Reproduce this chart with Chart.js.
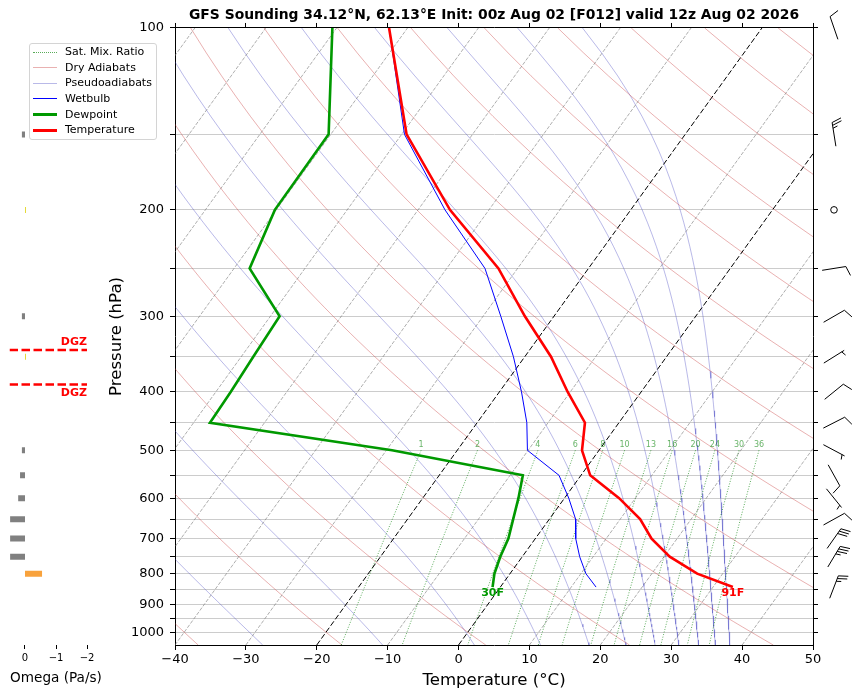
<!DOCTYPE html>
<html>
<head>
<meta charset="utf-8">
<title>GFS Sounding</title>
<script src="https://cdn.jsdelivr.net/npm/chart.js@4.4.1/dist/chart.umd.min.js"></script>
<style>
  html, body { margin: 0; padding: 0; background: #fff; }
  #wrap { position: relative; width: 858px; height: 694px; font-family: 'DejaVu Sans', sans-serif; }
  canvas { position: absolute; left: 0; top: 0; }
  #legend { position: absolute; left: 29px; top: 43px; width: 126px; height: 95px;
            border: 1px solid #d4d4d4; border-radius: 3px; background: rgba(255,255,255,0.85);
            font-size: 11px; color: #000; }
  .row { position: absolute; left: 0; height: 14px; line-height: 14px; white-space: nowrap; }
  .swatch { position: absolute; left: 3px; width: 24px; }
  .lbl { position: absolute; left: 35px; top: 0; }
</style>
</head>
<body>
<div id="wrap">
  <canvas id="omega" width="120" height="694"></canvas>
  <canvas id="skewt" width="858" height="694"></canvas>
  <div id="legend"></div>
</div>
<script>
// sounding levels (hPa) and profiles (deg C)
const pressureLevels = [100, 150, 200, 250, 300, 350, 400, 450, 500, 550, 600, 650, 700, 750, 800, 842];
const temperatureC = [-72.6, -59.3, -45.5, -32.7, -24.1, -16.3, -10.4, -4.8, -2.4, 1.3, 7.7, 12.8, 16.4, 20.8, 26.4, 32.8];
const dewpointC = [-80.6, -70.3, -70.2, -67.8, -58.7, -58.3, -57.9, -57.7, -29.2, -8.2, -6.5, -5.1, -3.8, -3.1, -2.2, -1.1];
const wetbulbC = [-72.6, -59.6, -46.2, -34.6, -27.5, -21.6, -16.9, -13.0, -10.1, -3.1, 0.6, 3.7, 5.7, 8.1, 10.7, 13.5];

// omega panel (Pa/s)
const omegaLevels = [150, 200, 250, 300, 350, 500, 550, 600, 650, 700, 750, 800];
const omegaPaS = [0.1, -0.03, 0.03, 0.1, -0.03, 0.1, 0.16, 0.22, 0.48, 0.48, 0.48, -0.55];
const dgzBoundsHpa = [341, 389];

// winds
const windLevels = [100, 150, 200, 250, 300, 350, 400, 450, 500, 550, 600, 650, 700, 750, 842];
const windDirDeg = [341, 351, 0, 81, 60, 58, 51, 63, 118, 151, 141, 61, 35, 31, 21];
const windSpeedKt = [10, 25, 0, 10, 10, 5, 10, 10, 5, 10, 5, 10, 30, 35, 25];

// background lines
const isothermsC = [-100, -90, -80, -70, -60, -50, -40, -30, -10, 10, 20, 30, 40, 50];
const markedIsothermsC = [-20, 0];
const dryAdiabatStartC = [-40, -20, 0, 20, 40, 60, 80, 100, 120, 140, 160, 180, 200, 220, 240];
const thetaELinesC = [-30, -10, 10, 30, 50, 70, 90, 110, 130, 150, 170];
const mixingRatioGkg = [1, 2, 4, 6, 8, 10, 13, 16, 20, 24, 30, 36];

// axes
const pressureTicks = [100, 150, 200, 250, 300, 350, 400, 450, 500, 550, 600, 650, 700, 750, 800, 850, 900, 950, 1000];
const omegaTicks = [-2, -1, 0];

const TITLE = 'GFS Sounding 34.12\u00b0N, 62.13\u00b0E Init: 00z Aug 02 [F012] valid 12z Aug 02 2026';
const P_TOP = 100, P_BOTTOM = 1050, SKEW = 62.8;
const MIX_TOP = 500;

const RED = '#ff0000', GREEN = '#009900', BLUE = '#0000ff';
const DRY_COLOR = 'rgba(200,60,60,0.4)', MOIST_COLOR = 'rgba(60,60,190,0.36)', MIX_COLOR = 'rgba(0,128,0,0.65)';

Chart.defaults.font.family = "'DejaVu Sans', sans-serif";
Chart.defaults.color = '#000';

function skewX(t, p) {
  return t + SKEW * Math.log10(P_BOTTOM / p) / Math.log10(P_BOTTOM / P_TOP);
}

const curveLevels = [];
for (let p = P_TOP; p <= P_BOTTOM; p += 10) curveLevels.push(p);

function satVap(tc) { return 6.112 * Math.exp(17.67 * tc / (tc + 243.5)); }

// saturated equivalent potential temperature (Bolton)
function thetaESat(tk, p) {
  const es = satVap(tk - 273.15);
  if (es > 0.5 * p) return Infinity;
  const r = 1000 * 0.622 * es / (p - es);
  const th = tk * Math.pow(1000 / p, 0.2854 * (1 - 0.28e-3 * r));
  return th * Math.exp((3.376 / tk - 0.00254) * r * (1 + 0.81e-3 * r));
}

function tempForThetaE(the, p) {
  let lo = 120, hi = 360;
  for (let k = 0; k < 60; k++) {
    const mid = (lo + hi) / 2;
    if (thetaESat(mid, p) > the) hi = mid; else lo = mid;
  }
  return (lo + hi) / 2 - 273.15;
}

function dewpointFromMix(w, p) {
  const e = w * p / (0.622 + w);
  const l = Math.log(e / 6.112);
  return 243.5 * l / (17.67 - l);
}

function line(data, color, width, dash) {
  return { data, showLine: true, borderColor: color, borderWidth: width, borderDash: dash || [],
           pointRadius: 0, fill: false, tension: 0 };
}

function profile(values) {
  return pressureLevels.map((p, i) => ({ x: skewX(values[i], p), y: p }));
}

const datasets = [
  line(profile(temperatureC), RED, 2.6),
  line(profile(dewpointC), GREEN, 2.6),
  line(profile(wetbulbC), BLUE, 1)
];

markedIsothermsC.forEach(t => {
  datasets.push(line([{ x: skewX(t, P_BOTTOM), y: P_BOTTOM }, { x: skewX(t, P_TOP), y: P_TOP }], '#000', 1, [5.5, 2.4]));
});
isothermsC.forEach(t => {
  datasets.push(line([{ x: skewX(t, P_BOTTOM), y: P_BOTTOM }, { x: skewX(t, P_TOP), y: P_TOP }], 'rgba(120,120,120,0.6)', 1, [3.7, 1.6]));
});
mixingRatioGkg.forEach(w => {
  const pts = curveLevels.filter(p => p >= MIX_TOP)
    .map(p => ({ x: skewX(dewpointFromMix(w / 1000, p), p), y: p }));
  datasets.push(line(pts, MIX_COLOR, 1, [1, 1.65]));
});
dryAdiabatStartC.forEach(t0 => {
  const pts = curveLevels.map(p => ({ x: skewX((t0 + 273.15) * Math.pow(p / 1000, 0.28571) - 273.15, p), y: p }));
  datasets.push(line(pts, DRY_COLOR, 1));
});
thetaELinesC.forEach(th => {
  const pts = curveLevels.map(p => ({ x: skewX(tempForThetaE(th + 273.15, p), p), y: p }));
  datasets.push(line(pts, MOIST_COLOR, 1));
});

const BARB_LEN = 24, BARB_SPACE = 2.9, BARB_H = 9.5, BARB_F = 3.2;

const barbPlugin = {
  id: 'barbs',
  afterDraw(chart) {
    const ctx = chart.ctx, ys = chart.scales.y;
    const xc = chart.chartArea.right + 21;
    ctx.save();
    ctx.strokeStyle = '#000';
    ctx.fillStyle = '#000';
    ctx.lineWidth = 1;
    windLevels.forEach((p, i) => {
      const yc = ys.getPixelForValue(p);
      const spd = windSpeedKt[i];
      if (spd < 2.5) {
        ctx.beginPath();
        ctx.arc(xc, yc, 3.3, 0, 2 * Math.PI);
        ctx.stroke();
        return;
      }
      const a = windDirDeg[i] * Math.PI / 180;
      const dx = Math.sin(a), dy = -Math.cos(a);
      const rx = -dy, ry = dx;
      const tx = xc + dx * BARB_LEN / 2, ty = yc + dy * BARB_LEN / 2;
      ctx.beginPath();
      ctx.moveTo(xc - dx * BARB_LEN / 2, yc - dy * BARB_LEN / 2);
      ctx.lineTo(tx, ty);
      ctx.stroke();
      let rest = Math.round(spd / 5) * 5;
      const flags = Math.floor(rest / 50); rest -= flags * 50;
      const full = Math.floor(rest / 10); rest -= full * 10;
      const half = rest >= 5 ? 1 : 0;
      let s = 0;
      for (let k = 0; k < flags; k++) {
        const px = tx - dx * s, py = ty - dy * s;
        ctx.beginPath();
        ctx.moveTo(px, py);
        ctx.lineTo(px + rx * BARB_H - dx * 2, py + ry * BARB_H - dy * 2);
        ctx.lineTo(px - dx * 4, py - dy * 4);
        ctx.closePath();
        ctx.fill();
        s += 5;
      }
      for (let k = 0; k < full; k++) {
        const px = tx - dx * s, py = ty - dy * s;
        ctx.beginPath();
        ctx.moveTo(px, py);
        ctx.lineTo(px + rx * BARB_H + dx * BARB_F, py + ry * BARB_H + dy * BARB_F);
        ctx.stroke();
        s += BARB_SPACE;
      }
      if (half) {
        if (flags + full === 0) s = BARB_SPACE;
        const px = tx - dx * s, py = ty - dy * s;
        ctx.beginPath();
        ctx.moveTo(px, py);
        ctx.lineTo(px + rx * BARB_H / 2 + dx * BARB_F / 2, py + ry * BARB_H / 2 + dy * BARB_F / 2);
        ctx.stroke();
      }
    });
    ctx.restore();
  }
};

const labelPlugin = {
  id: 'skewLabels',
  afterDatasetsDraw(chart) {
    const ctx = chart.ctx, xs = chart.scales.x, ys = chart.scales.y;
    const area = chart.chartArea;
    ctx.save();
    // mixing ratio labels
    ctx.font = "8px 'DejaVu Sans'";
    ctx.fillStyle = 'rgba(0,128,0,0.6)';
    ctx.textAlign = 'center';
    ctx.textBaseline = 'bottom';
    mixingRatioGkg.forEach(w => {
      const x = xs.getPixelForValue(skewX(dewpointFromMix(w / 1000, MIX_TOP), MIX_TOP));
      if (x > area.left && x < area.right) ctx.fillText(String(w), x, ys.getPixelForValue(MIX_TOP) - 1);
    });
    // surface values in F
    const n = pressureLevels.length - 1, ps = pressureLevels[n];
    ctx.font = "bold 11px 'DejaVu Sans'";
    ctx.textBaseline = 'top';
    [[dewpointC[n], GREEN], [temperatureC[n], RED]].forEach(([t, c]) => {
      ctx.fillStyle = c;
      ctx.fillText(Math.round(t * 9 / 5 + 32) + 'F', xs.getPixelForValue(skewX(t, ps)), ys.getPixelForValue(ps) + 1);
    });
    ctx.restore();
  }
};

const minus = v => String(v).replace('-', '\u2212');

new Chart(document.getElementById('skewt'), {
  type: 'scatter',
  data: { datasets },
  plugins: [labelPlugin, barbPlugin],
  options: {
    responsive: false,
    animation: false,
    events: [],
    layout: { padding: { left: 103, right: 39.6, top: 0, bottom: 0 } },
    plugins: {
      legend: { display: false },
      tooltip: { enabled: false },
      title: { display: true, text: TITLE, fullSize: false, color: '#000',
               font: { size: 13.9, weight: 'bold' }, padding: { top: 6.7, bottom: 0 } }
    },
    scales: {
      x: {
        type: 'linear', position: 'bottom', min: -40, max: 50,
        ticks: { stepSize: 10, autoSkip: false, font: { size: 13 }, padding: 2, callback: minus },
        grid: { drawOnChartArea: false, tickLength: 5, tickColor: '#000' },
        border: { color: '#000', width: 1 },
        title: { display: true, text: 'Temperature (\u00b0C)', font: { size: 16.6 }, padding: { top: 3, bottom: 3 } },
        afterFit: s => { s.height = 49; }
      },
      x2: {
        type: 'linear', position: 'top', min: -40, max: 50,
        ticks: { stepSize: 10, autoSkip: false, callback: () => '' },
        grid: { drawOnChartArea: false, tickLength: 5, tickColor: '#000' },
        border: { color: '#000', width: 1 },
        afterFit: s => { s.height = 4.6; }
      },
      y: {
        type: 'logarithmic', position: 'left', reverse: true, min: P_TOP, max: P_BOTTOM,
        afterBuildTicks: s => { s.ticks = pressureTicks.map(v => ({ value: v })); },
        ticks: { autoSkip: false, font: { size: 13 }, padding: 6,
                 callback: v => (v % 100 === 0 ? String(v) : '') },
        grid: { color: '#cccccc', lineWidth: 1, tickLength: 5, tickColor: '#000' },
        border: { color: '#000', width: 1 },
        title: { display: true, text: 'Pressure (hPa)', font: { size: 16.6 }, padding: { top: 3.3, bottom: 3.3 } },
        afterFit: s => { s.width = 72; }
      },
      y2: {
        type: 'logarithmic', position: 'right', reverse: true, min: P_TOP, max: P_BOTTOM,
        afterBuildTicks: s => { s.ticks = pressureTicks.map(v => ({ value: v })); },
        ticks: { autoSkip: false, callback: () => '' },
        grid: { drawOnChartArea: false, tickLength: 5, tickColor: '#000' },
        border: { color: '#000', width: 1 },
        afterFit: s => { s.width = 5.4; }
      }
    }
  }
});

// omega panel
function omegaColor(v) { return v > 0 ? '#808080' : (v > -0.25 ? '#e4d82a' : '#f8a23c'); }

const omegaSets = omegaLevels.map((p, i) => ({
  data: [{ x: 0, y: p }, { x: omegaPaS[i], y: p }],
  showLine: true, borderColor: omegaColor(omegaPaS[i]), borderWidth: 6,
  borderCapStyle: 'butt', pointRadius: 0
}));
dgzBoundsHpa.forEach(p => {
  omegaSets.push({ data: [{ x: 0.5, y: p }, { x: -2, y: p }], showLine: true, borderColor: RED,
                   borderWidth: 2.5, borderDash: [8.5, 3.5], borderCapStyle: 'butt', pointRadius: 0 });
});

const dgzPlugin = {
  id: 'dgz',
  afterDatasetsDraw(chart) {
    const ctx = chart.ctx, xs = chart.scales.x, ys = chart.scales.y;
    ctx.save();
    ctx.font = "bold 11px 'DejaVu Sans'";
    ctx.fillStyle = RED;
    ctx.textAlign = 'right';
    const xr = xs.getPixelForValue(-2);
    ctx.textBaseline = 'bottom';
    ctx.fillText('DGZ', xr, ys.getPixelForValue(dgzBoundsHpa[0]) - 2);
    ctx.textBaseline = 'top';
    ctx.fillText('DGZ', xr, ys.getPixelForValue(dgzBoundsHpa[1]) + 3);
    ctx.restore();
  }
};

new Chart(document.getElementById('omega'), {
  type: 'scatter',
  data: { datasets: omegaSets },
  plugins: [dgzPlugin],
  options: {
    responsive: false,
    animation: false,
    events: [],
    layout: { padding: { left: 9.5, right: 17.5, top: 28, bottom: 0 } },
    plugins: { legend: { display: false }, tooltip: { enabled: false } },
    scales: {
      x: {
        type: 'linear', min: -2.5, max: 0.5, reverse: true,
        afterBuildTicks: s => { s.ticks = omegaTicks.map(v => ({ value: v })); },
        ticks: { font: { size: 10 }, padding: 3, callback: minus },
        grid: { drawOnChartArea: false, tickLength: 4, tickColor: '#000' },
        border: { display: false },
        title: { display: true, text: 'Omega (Pa/s)', font: { size: 13.6 }, padding: { top: 0, bottom: 7.8 } },
        afterFit: s => { s.height = 49; }
      },
      y: { type: 'logarithmic', display: false, reverse: true, min: P_TOP, max: P_BOTTOM }
    }
  }
});

// legend
const legendItems = [
  { text: 'Sat. Mix. Ratio', color: MIX_COLOR, width: 1, style: 'dotted' },
  { text: 'Dry Adiabats', color: DRY_COLOR, width: 1, style: 'solid' },
  { text: 'Pseudoadiabats', color: MOIST_COLOR, width: 1, style: 'solid' },
  { text: 'Wetbulb', color: BLUE, width: 1, style: 'solid' },
  { text: 'Dewpoint', color: GREEN, width: 3, style: 'solid' },
  { text: 'Temperature', color: RED, width: 3, style: 'solid' }
];
const legendEl = document.getElementById('legend');
legendItems.forEach((it, i) => {
  const row = document.createElement('div');
  row.className = 'row';
  row.style.top = (1.3 + i * 15.55) + 'px';
  const sw = document.createElement('div');
  sw.className = 'swatch';
  sw.style.top = (7 - it.width / 2) + 'px';
  sw.style.borderTop = it.width + 'px ' + it.style + ' ' + it.color;
  const lb = document.createElement('span');
  lb.className = 'lbl';
  lb.textContent = it.text;
  row.appendChild(sw);
  row.appendChild(lb);
  legendEl.appendChild(row);
});
</script>
</body>
</html>
